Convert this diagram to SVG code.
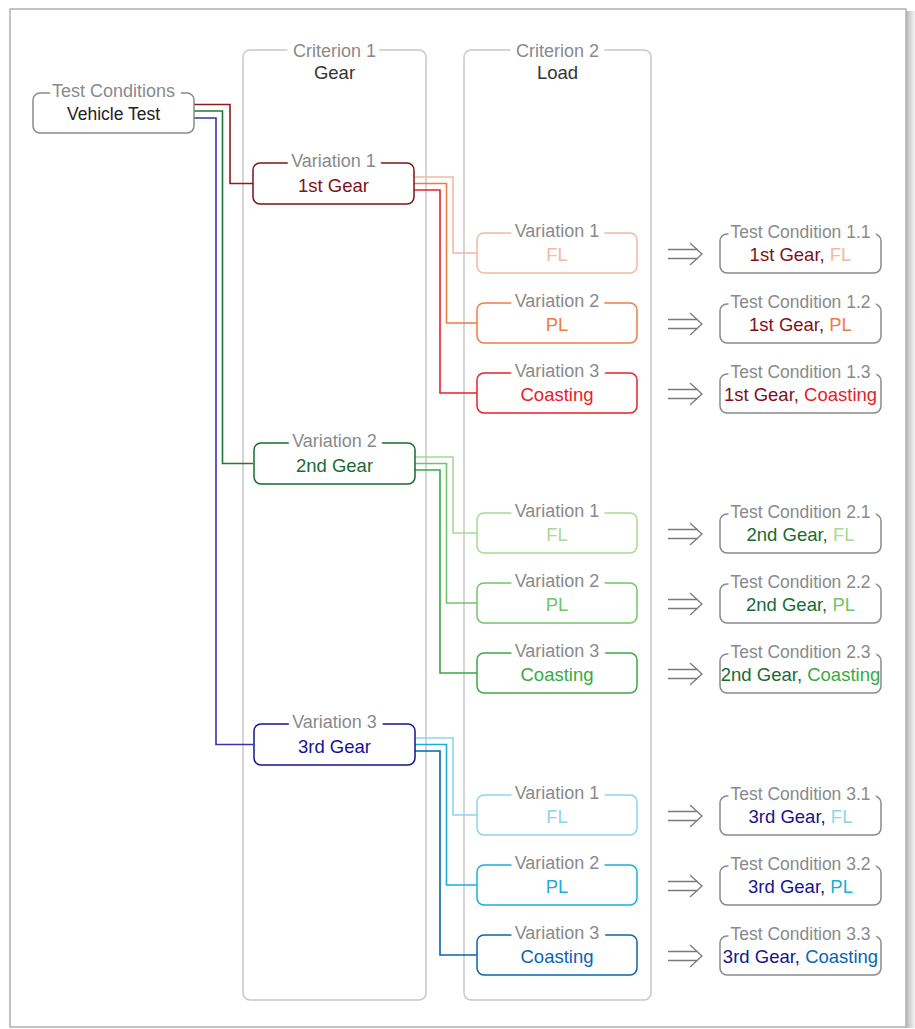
<svg xmlns="http://www.w3.org/2000/svg" width="915" height="1029" viewBox="0 0 915 1029">
<defs>
<linearGradient id="sh" x1="0" y1="0" x2="1" y2="0">
<stop offset="0" stop-color="#b8b8b8"/><stop offset="1" stop-color="#f4f4f4"/>
</linearGradient>
<g id="arr" fill="none" stroke="#7a7a7a" stroke-width="1.3" stroke-linejoin="miter">
<path d="M0,-4.5 H30 M0,4.5 H30 M22,-11 L34,0 L22,11"/>
</g>
</defs>
<style>
text{font-family:"Liberation Sans",Arial,sans-serif;text-anchor:middle}
.lab{font-size:18px;fill:#8a8a8a;stroke:#fff;stroke-width:13px;paint-order:stroke;stroke-linejoin:round}
.tcl{font-size:17.5px}
.main{font-size:18.5px}
.box{fill:#fff;stroke-width:1.5}
.col{fill:none;stroke:#c8c8c8;stroke-width:1.5}
.con path{fill:none;stroke-width:1.6}
.gray{stroke:#8a8a8a}
</style>
<rect x="0" y="0" width="915" height="1029" fill="#fff"/>
<rect x="906" y="11" width="9" height="1017" fill="url(#sh)"/>
<rect x="10" y="9" width="896" height="1018" fill="#fff" stroke="#b0b0b0" stroke-width="1.5"/>

<g id="criterion1">
<rect class="col" x="243" y="50" width="183" height="950" rx="7"/>
<text class="lab" x="334.5" y="57">Criterion 1</text>
<text class="main" x="334.5" y="79" fill="#333">Gear</text>
</g>
<g id="criterion2">
<rect class="col" x="464" y="50" width="187" height="950" rx="7"/>
<text class="lab" x="557.5" y="57">Criterion 2</text>
<text class="main" x="557.5" y="79" fill="#333">Load</text>
</g>

<g id="connectors" class="con">
<path stroke="#8e1c1c" d="M194,104.5 H230 V183.5 H253"/>
<path stroke="#1e7a3a" d="M194,111 H222.5 V463.5 H253"/>
<path stroke="#3535b0" d="M194,118 H216 V744.5 H253"/>

<path stroke="#f4b9a2" d="M414,177 H453 V253 H477"/>
<path stroke="#f07c45" d="M414,183.5 H446.5 V323 H477"/>
<path stroke="#e8202a" d="M414,190 H440 V393 H477"/>

<path stroke="#a9d994" d="M415,457 H453 V533 H477"/>
<path stroke="#72c46a" d="M415,463.5 H446.5 V603 H477"/>
<path stroke="#3aa846" d="M415,470 H440 V673 H477"/>

<path stroke="#8fd3f2" d="M415,738 H453 V815 H477"/>
<path stroke="#1aaee0" d="M415,744.5 H446.5 V885 H477"/>
<path stroke="#0b64ae" d="M415,751 H440 V955 H477"/>

<use href="#arr" x="668" y="254"/>
<use href="#arr" x="668" y="324"/>
<use href="#arr" x="668" y="394"/>
<use href="#arr" x="668" y="534"/>
<use href="#arr" x="668" y="604"/>
<use href="#arr" x="668" y="674"/>
<use href="#arr" x="668" y="816"/>
<use href="#arr" x="668" y="886"/>
<use href="#arr" x="668" y="956"/>
</g>

<g id="vehicle">
<rect class="box gray" x="33" y="93" width="161" height="40" rx="7"/>
<text class="lab" x="113.5" y="97">Test Conditions</text>
<text class="main" x="113.5" y="120" fill="#222" style="font-size:17.5px">Vehicle Test</text>
</g>

<g id="gear1">
<rect class="box" stroke="#7d1319" x="253" y="163" width="161" height="41" rx="7"/>
<text class="lab" x="333.5" y="167">Variation 1</text>
<text class="main" x="333.5" y="191.5" fill="#7d1319">1st Gear</text>
</g>
<g id="gear2">
<rect class="box" stroke="#176b32" x="254" y="443" width="161" height="41" rx="7"/>
<text class="lab" x="334.5" y="447">Variation 2</text>
<text class="main" x="334.5" y="471.5" fill="#176b32">2nd Gear</text>
</g>
<g id="gear3">
<rect class="box" stroke="#14148f" x="254" y="724" width="161" height="41" rx="7"/>
<text class="lab" x="334.5" y="728">Variation 3</text>
<text class="main" x="334.5" y="752.5" fill="#14148f">3rd Gear</text>
</g>

<g id="load11"><rect class="box" stroke="#f4b9a2" x="477" y="233" width="160" height="40" rx="7"/>
<text class="lab" x="557" y="237">Variation 1</text><text class="main" x="557" y="261" fill="#f4b9a2">FL</text></g>
<g id="load12"><rect class="box" stroke="#f07c45" x="477" y="303" width="160" height="40" rx="7"/>
<text class="lab" x="557" y="307">Variation 2</text><text class="main" x="557" y="331" fill="#f07c45">PL</text></g>
<g id="load13"><rect class="box" stroke="#e8202a" x="477" y="373" width="160" height="40" rx="7"/>
<text class="lab" x="557" y="377">Variation 3</text><text class="main" x="557" y="401" fill="#e8202a">Coasting</text></g>

<g id="load21"><rect class="box" stroke="#a9d994" x="477" y="513" width="160" height="40" rx="7"/>
<text class="lab" x="557" y="517">Variation 1</text><text class="main" x="557" y="541" fill="#a9d994">FL</text></g>
<g id="load22"><rect class="box" stroke="#72c46a" x="477" y="583" width="160" height="40" rx="7"/>
<text class="lab" x="557" y="587">Variation 2</text><text class="main" x="557" y="611" fill="#72c46a">PL</text></g>
<g id="load23"><rect class="box" stroke="#3aa846" x="477" y="653" width="160" height="40" rx="7"/>
<text class="lab" x="557" y="657">Variation 3</text><text class="main" x="557" y="681" fill="#3aa846">Coasting</text></g>

<g id="load31"><rect class="box" stroke="#8fd3f2" x="477" y="795" width="160" height="40" rx="7"/>
<text class="lab" x="557" y="799">Variation 1</text><text class="main" x="557" y="823" fill="#8fd3f2">FL</text></g>
<g id="load32"><rect class="box" stroke="#1aaee0" x="477" y="865" width="160" height="40" rx="7"/>
<text class="lab" x="557" y="869">Variation 2</text><text class="main" x="557" y="893" fill="#1aaee0">PL</text></g>
<g id="load33"><rect class="box" stroke="#0b64ae" x="477" y="935" width="160" height="40" rx="7"/>
<text class="lab" x="557" y="939">Variation 3</text><text class="main" x="557" y="963" fill="#0b64ae">Coasting</text></g>

<g id="tc11"><rect class="box gray" x="720" y="234" width="161" height="39" rx="7"/>
<text class="lab tcl" x="800.5" y="238">Test Condition 1.1</text>
<text class="main" x="800.5" y="261"><tspan fill="#7d1319">1st Gear, </tspan><tspan fill="#f4b9a2">FL</tspan></text></g>
<g id="tc12"><rect class="box gray" x="720" y="304" width="161" height="39" rx="7"/>
<text class="lab tcl" x="800.5" y="308">Test Condition 1.2</text>
<text class="main" x="800.5" y="331"><tspan fill="#7d1319">1st Gear, </tspan><tspan fill="#f07c45">PL</tspan></text></g>
<g id="tc13"><rect class="box gray" x="720" y="374" width="161" height="39" rx="7"/>
<text class="lab tcl" x="800.5" y="378">Test Condition 1.3</text>
<text class="main" x="800.5" y="401"><tspan fill="#7d1319">1st Gear, </tspan><tspan fill="#e8202a">Coasting</tspan></text></g>

<g id="tc21"><rect class="box gray" x="720" y="514" width="161" height="39" rx="7"/>
<text class="lab tcl" x="800.5" y="518">Test Condition 2.1</text>
<text class="main" x="800.5" y="541"><tspan fill="#176b32">2nd Gear, </tspan><tspan fill="#a9d994">FL</tspan></text></g>
<g id="tc22"><rect class="box gray" x="720" y="584" width="161" height="39" rx="7"/>
<text class="lab tcl" x="800.5" y="588">Test Condition 2.2</text>
<text class="main" x="800.5" y="611"><tspan fill="#176b32">2nd Gear, </tspan><tspan fill="#72c46a">PL</tspan></text></g>
<g id="tc23"><rect class="box gray" x="720" y="654" width="161" height="39" rx="7"/>
<text class="lab tcl" x="800.5" y="658">Test Condition 2.3</text>
<text class="main" x="800.5" y="681"><tspan fill="#176b32">2nd Gear, </tspan><tspan fill="#3aa846">Coasting</tspan></text></g>

<g id="tc31"><rect class="box gray" x="720" y="796" width="161" height="39" rx="7"/>
<text class="lab tcl" x="800.5" y="800">Test Condition 3.1</text>
<text class="main" x="800.5" y="823"><tspan fill="#14148f">3rd Gear, </tspan><tspan fill="#8fd3f2">FL</tspan></text></g>
<g id="tc32"><rect class="box gray" x="720" y="866" width="161" height="39" rx="7"/>
<text class="lab tcl" x="800.5" y="870">Test Condition 3.2</text>
<text class="main" x="800.5" y="893"><tspan fill="#14148f">3rd Gear, </tspan><tspan fill="#1aaee0">PL</tspan></text></g>
<g id="tc33"><rect class="box gray" x="720" y="936" width="161" height="39" rx="7"/>
<text class="lab tcl" x="800.5" y="940">Test Condition 3.3</text>
<text class="main" x="800.5" y="963"><tspan fill="#14148f">3rd Gear, </tspan><tspan fill="#0b64ae">Coasting</tspan></text></g>
</svg>
